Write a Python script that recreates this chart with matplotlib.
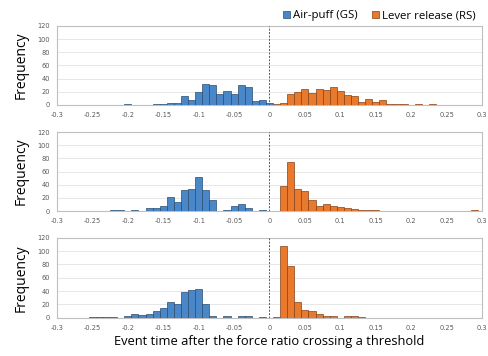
import matplotlib.pyplot as plt
from matplotlib.patches import Patch

# bin centres (s) and counts
gs1_t = [-0.20, -0.16, -0.15, -0.14, -0.13, -0.12, -0.11, -0.10, -0.09, -0.08,
         -0.07, -0.06, -0.05, -0.04, -0.03, -0.02, -0.01, 0.00]
gs1_n = [1, 1, 2, 3, 3, 14, 7, 20, 32, 31, 17, 21, 17, 30, 27, 6, 7, 3]
rs1_t = [0.01, 0.02, 0.03, 0.04, 0.05, 0.06, 0.07, 0.08, 0.09, 0.10, 0.11,
         0.12, 0.13, 0.14, 0.15, 0.16, 0.17, 0.18, 0.19, 0.21, 0.23]
rs1_n = [1, 3, 16, 20, 25, 18, 24, 23, 27, 22, 15, 14, 5, 9, 5, 7, 2, 1, 1, 2, 1]

gs2_t = [-0.22, -0.21, -0.19, -0.17, -0.16, -0.15, -0.14, -0.13, -0.12, -0.11,
         -0.10, -0.09, -0.08, -0.06, -0.05, -0.04, -0.03, -0.01]
gs2_n = [2, 1, 1, 5, 5, 8, 21, 14, 32, 33, 51, 32, 16, 1, 7, 10, 5, 2]
rs2_t = [0.02, 0.03, 0.04, 0.05, 0.06, 0.07, 0.08, 0.09, 0.10, 0.11, 0.12,
         0.13, 0.14, 0.15, 0.29]
rs2_n = [38, 74, 34, 30, 16, 7, 11, 7, 6, 4, 3, 2, 2, 2, 2]

gs3_t = [-0.25, -0.24, -0.23, -0.22, -0.20, -0.19, -0.18, -0.17, -0.16, -0.15,
         -0.14, -0.13, -0.12, -0.11, -0.10, -0.09, -0.08, -0.06, -0.04, -0.03,
         -0.01]
gs3_n = [1, 1, 1, 1, 2, 5, 4, 5, 10, 15, 24, 21, 38, 41, 43, 21, 2, 2, 3, 2, 1]
rs3_t = [0.01, 0.02, 0.03, 0.04, 0.05, 0.06, 0.07, 0.08, 0.09, 0.11, 0.12, 0.13]
rs3_n = [1, 107, 77, 23, 12, 10, 5, 3, 2, 2, 2, 1]

x_ticks = [-0.3, -0.25, -0.2, -0.15, -0.1, -0.05, 0, 0.05, 0.1, 0.15, 0.2, 0.25, 0.3]
x_labels = ['-0.3', '-0.25', '-0.2', '-0.15', '-0.1', '-0.05', '0',
            '0.05', '0.1', '0.15', '0.2', '0.25', '0.3']
y_ticks = [0, 20, 40, 60, 80, 100, 120]

blue, blue_edge = '#4a87c8', '#2c4d6e'
orange, orange_edge = '#e8792d', '#864318'

fig = plt.figure(figsize=(4.88, 3.56), dpi=100)

panels = [(gs1_t, gs1_n, rs1_t, rs1_n, 0.7051, 0.2219),
          (gs2_t, gs2_n, rs2_t, rs2_n, 0.4073, 0.2219),
          (gs3_t, gs3_n, rs3_t, rs3_n, 0.1076, 0.2247)]

axes = []
for gt, gn, rt, rn, b, h in panels:
    ax = fig.add_axes([0.1168, b, 0.8709, h])
    ax.bar(gt, gn, width=0.01, color=blue, edgecolor=blue_edge, linewidth=0.5, zorder=3)
    ax.bar(rt, rn, width=0.01, color=orange, edgecolor=orange_edge, linewidth=0.5, zorder=3)
    ax.axvline(0, color='#555555', linestyle=(0, (2, 1.5)), linewidth=0.7, zorder=4)
    ax.set_xlim(-0.3, 0.3)
    ax.set_ylim(0, 120)
    ax.set_xticks(x_ticks)
    ax.set_xticklabels(x_labels)
    ax.set_yticks(y_ticks)
    ax.tick_params(length=0, labelsize=4.8, colors='#595959', pad=5)
    ax.grid(axis='y', color='#e3e3e3', linewidth=0.6, zorder=0)
    for s in ax.spines.values():
        s.set_color('#bfbfbf')
        s.set_linewidth(0.8)
    ax.set_ylabel('Frequency', fontsize=10, family='Open Sans', labelpad=6)
    axes.append(ax)

axes[2].set_xlabel('Event time after the force ratio crossing a threshold',
                   fontsize=9.3, family='Open Sans', labelpad=3)

handles = [Patch(facecolor=blue, edgecolor=blue_edge, linewidth=0.5),
           Patch(facecolor=orange, edgecolor=orange_edge, linewidth=0.5)]
fig.legend(handles, ['Air-puff (GS)', 'Lever release (RS)'], loc='center right',
           bbox_to_anchor=(0.995, 0.956), ncol=2, frameon=False,
           prop={'family': 'Open Sans', 'size': 8.2}, handlelength=0.6,
           handleheight=0.6, handletextpad=0.25, columnspacing=1.3)

fig.savefig('out.png', dpi=100)
